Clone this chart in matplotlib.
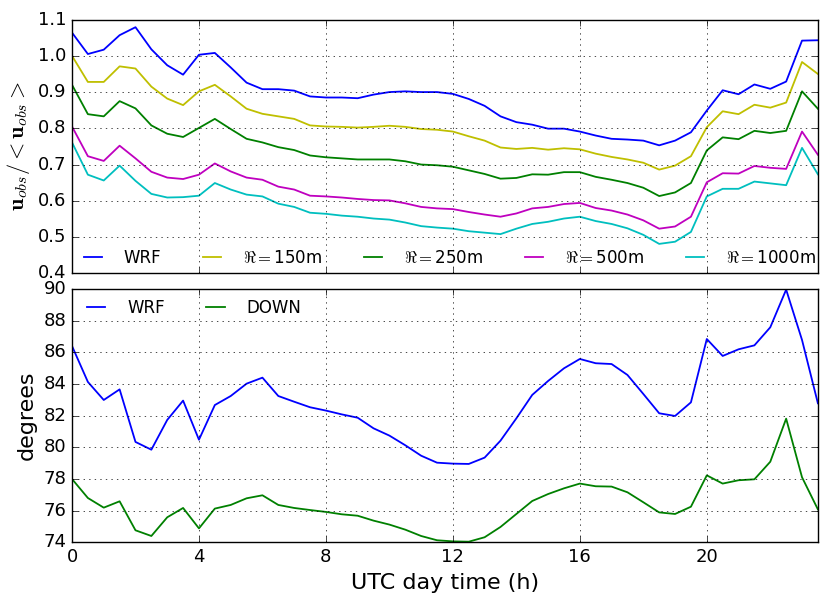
import numpy as np
import matplotlib
matplotlib.use("Agg")
import matplotlib.pyplot as plt

plt.style.use('classic')
plt.rcParams['figure.facecolor'] = 'white'
plt.rcParams['savefig.facecolor'] = 'white'
plt.rcParams['mathtext.fontset'] = 'cm'

hours = np.arange(0, 24, 0.5)

wrf_ratio = [1.064, 1.005, 1.017, 1.057, 1.079, 1.018, 0.974, 0.948, 1.003, 1.008, 0.968, 0.926,
             0.908, 0.908, 0.904, 0.888, 0.885, 0.885, 0.883, 0.893, 0.900, 0.902, 0.900, 0.900,
             0.895, 0.881, 0.862, 0.833, 0.817, 0.810, 0.799, 0.799, 0.791, 0.780, 0.771, 0.769,
             0.766, 0.753, 0.766, 0.789, 0.849, 0.905, 0.894, 0.921, 0.909, 0.929, 1.042, 1.043]
r150 = [1.000, 0.928, 0.928, 0.971, 0.965, 0.915, 0.882, 0.864, 0.902, 0.920, 0.888, 0.854,
        0.840, 0.833, 0.826, 0.808, 0.805, 0.804, 0.802, 0.804, 0.807, 0.804, 0.798, 0.796,
        0.791, 0.778, 0.766, 0.747, 0.743, 0.746, 0.741, 0.745, 0.742, 0.730, 0.721, 0.714,
        0.705, 0.686, 0.697, 0.723, 0.803, 0.847, 0.839, 0.865, 0.857, 0.871, 0.983, 0.950]
r250 = [0.920, 0.839, 0.833, 0.875, 0.855, 0.808, 0.785, 0.776, 0.801, 0.826, 0.798, 0.771,
        0.761, 0.748, 0.740, 0.725, 0.720, 0.717, 0.714, 0.714, 0.714, 0.709, 0.700, 0.698,
        0.694, 0.684, 0.674, 0.661, 0.663, 0.673, 0.672, 0.679, 0.679, 0.666, 0.658, 0.649,
        0.636, 0.613, 0.623, 0.649, 0.739, 0.775, 0.770, 0.793, 0.787, 0.793, 0.902, 0.854]
r500 = [0.805, 0.723, 0.710, 0.752, 0.717, 0.680, 0.664, 0.660, 0.672, 0.703, 0.681, 0.664,
        0.658, 0.639, 0.631, 0.614, 0.612, 0.609, 0.605, 0.602, 0.601, 0.593, 0.583, 0.579,
        0.577, 0.569, 0.562, 0.556, 0.565, 0.579, 0.583, 0.591, 0.594, 0.580, 0.573, 0.562,
        0.546, 0.523, 0.529, 0.556, 0.651, 0.676, 0.675, 0.696, 0.691, 0.688, 0.791, 0.727]
r1000 = [0.761, 0.672, 0.656, 0.697, 0.655, 0.619, 0.609, 0.610, 0.614, 0.649, 0.631, 0.617,
         0.612, 0.592, 0.583, 0.567, 0.564, 0.559, 0.556, 0.551, 0.548, 0.540, 0.530, 0.526,
         0.523, 0.516, 0.512, 0.508, 0.523, 0.536, 0.542, 0.551, 0.556, 0.544, 0.536, 0.524,
         0.506, 0.481, 0.487, 0.514, 0.612, 0.633, 0.633, 0.653, 0.648, 0.643, 0.746, 0.673]

wrf_dir = [86.40, 84.13, 82.99, 83.66, 80.34, 79.85, 81.73, 82.95, 80.48, 82.67, 83.24, 84.02,
           84.40, 83.24, 82.88, 82.53, 82.32, 82.08, 81.87, 81.20, 80.74, 80.13, 79.47, 79.03,
           78.97, 78.95, 79.35, 80.42, 81.83, 83.31, 84.19, 84.99, 85.58, 85.31, 85.26, 84.57,
           83.37, 82.15, 81.98, 82.84, 86.84, 85.77, 86.19, 86.44, 87.58, 89.96, 86.78, 82.78]
down_dir = [78.00, 76.80, 76.19, 76.59, 74.76, 74.40, 75.58, 76.17, 74.88, 76.13, 76.36, 76.78,
            76.97, 76.36, 76.17, 76.04, 75.92, 75.77, 75.68, 75.37, 75.12, 74.80, 74.40, 74.13,
            74.06, 74.04, 74.32, 74.97, 75.79, 76.61, 77.05, 77.41, 77.71, 77.54, 77.52, 77.16,
            76.53, 75.89, 75.79, 76.25, 78.23, 77.71, 77.92, 77.98, 79.09, 81.81, 78.11, 76.08]

top_labels = ['WRF', r'$\Re=$150m', r'$\Re=$250m', r'$\Re=$500m', r'$\Re=$1000m']
top_colors = ['b', 'y', 'g', 'm', 'c']
bottom_labels = ['WRF', 'DOWN']
bottom_colors = ['b', 'g']
xticks = [0, 4, 8, 12, 16, 20]

fig = plt.figure(figsize=(8.22, 5.94), dpi=100)
ax1 = fig.add_axes([0.0876, 0.540, 0.9074, 0.427])
ax2 = fig.add_axes([0.0876, 0.087, 0.9074, 0.4265], sharex=ax1)

for vals, lab, col in zip([wrf_ratio, r150, r250, r500, r1000], top_labels, top_colors):
    ax1.plot(hours, vals, color=col, lw=1.3, label=lab)
ax1.set_ylim(0.4, 1.1)
ax1.set_yticks(np.arange(0.4, 1.101, 0.1))
ax1.set_ylabel(r'$\mathbf{u}_{obs}/<\mathbf{u}_{obs}>$', fontsize=16, labelpad=4)
ax1.grid(True, color='k', linestyle=':')
plt.setp(ax1.get_xticklabels(), visible=False)
ax1.legend(loc='lower left', ncol=5, frameon=False, fontsize=12, handlelength=1.7,
           handletextpad=1.0, columnspacing=2.2, borderaxespad=0.0)

for vals, lab, col in zip([wrf_dir, down_dir], bottom_labels, bottom_colors):
    ax2.plot(hours, vals, color=col, lw=1.3, label=lab)
ax2.set_ylim(74, 90)
ax2.set_yticks(np.arange(74, 91, 2))
ax2.set_xlim(0, 23.5)
ax2.set_xticks(xticks)
ax2.set_ylabel('degrees', fontsize=16)
ax2.set_xlabel('UTC day time (h)', fontsize=16)
ax2.grid(True, color='k', linestyle=':')
ax2.legend(loc='upper left', ncol=2, frameon=False, fontsize=12, handlelength=1.7,
           handletextpad=1.0, columnspacing=2.2, borderaxespad=0.2)

for ax in (ax1, ax2):
    ax.tick_params(labelsize=13)

fig.savefig('out.png', dpi=100)
